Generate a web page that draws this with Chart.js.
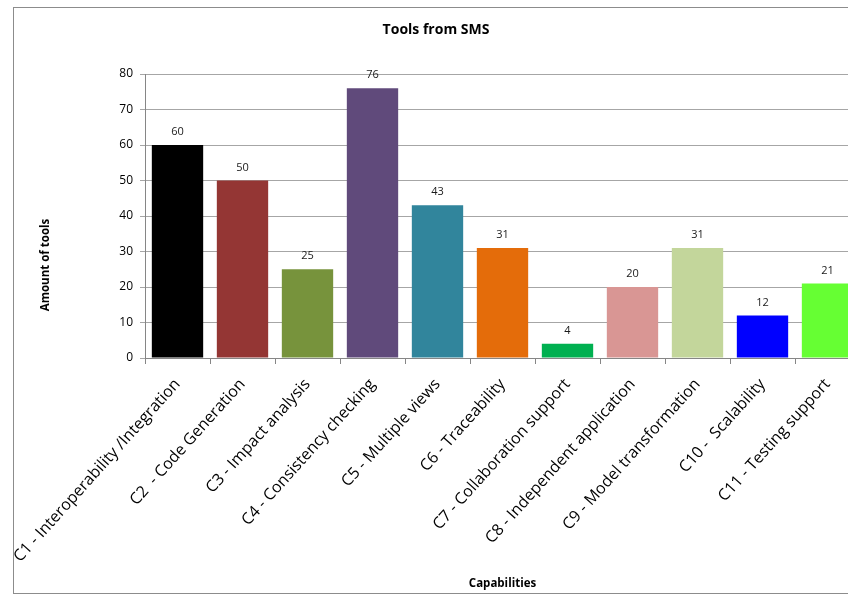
<!DOCTYPE html>
<html>
<head>
<meta charset="utf-8">
<script src="https://cdn.jsdelivr.net/npm/chart.js@4/dist/chart.umd.min.js"></script>
<style>
    html, body { margin: 0; padding: 0; background: #fff; overflow: hidden; }
    #frame {
        position: absolute;
        left: 13px;
        top: 7px;
        width: 900px;
        height: 585px;
        border: 1px solid #8c8c8c;
        overflow: hidden;
    }
    #chart { display: block; }
</style>
</head>
<body>
<div id="frame">
    <canvas id="chart" width="860" height="585"></canvas>
</div>
<script>
const capabilities = [
    'C1 - Interoperability /Integration',
    'C2  - Code Generation',
    'C3 - Impact analysis',
    'C4 - Consistency checking',
    'C5 - Multiple views',
    'C6 - Traceability',
    'C7 - Collaboration support',
    'C8 - Independent application',
    'C9 - Model transformation',
    'C10 -  Scalability',
    'C11 - Testing support'
];
const toolCounts = [60, 50, 25, 76, 43, 31, 4, 20, 31, 12, 21];
const barColors = [
    '#000000', '#943634', '#77933C', '#604A7B', '#31859C', '#E46C0A',
    '#00B050', '#D99694', '#C3D69B', '#0000FF', '#66FF33'
];
const yTicks = [0, 10, 20, 30, 40, 50, 60, 70, 80];

const FONT = '"Open Sans", Lato, "DejaVu Sans", sans-serif';

// numbers above the bars + chart title + y axis title
const textPlugin = {
    id: 'textPlugin',
    afterDatasetsDraw(chart) {
        const ctx = chart.ctx;
        ctx.save();
        ctx.fillStyle = '#1a1a1a';
        ctx.font = '11px ' + FONT;
        ctx.textAlign = 'center';
        ctx.textBaseline = 'middle';
        chart.getDatasetMeta(0).data.forEach((bar, i) => {
            ctx.fillText(toolCounts[i], bar.x, bar.y - 13);
        });

        ctx.font = 'bold 14px ' + FONT;
        ctx.fillStyle = '#000';
        ctx.fillText('Tools from SMS', 422, 22);

        ctx.translate(32, 257);
        ctx.rotate(-Math.PI / 2);
        ctx.font = 'bold 11.5px ' + FONT;
        ctx.fillText('Amount of tools', 0, 0);
        ctx.restore();
    }
};

new Chart(document.getElementById('chart').getContext('2d'), {
    type: 'bar',
    data: {
        labels: capabilities,
        datasets: [{
            data: toolCounts,
            backgroundColor: barColors,
            borderWidth: 0,
            barPercentage: 0.79,
            categoryPercentage: 1
        }]
    },
    options: {
        responsive: false,
        animation: false,
        devicePixelRatio: 1,
        layout: { padding: { top: 66, right: 14, left: 0, bottom: 0 } },
        plugins: {
            legend: { display: false },
            tooltip: { enabled: false },
            title: { display: false }
        },
        scales: {
            x: {
                grid: {
                    display: true,
                    drawOnChartArea: false,
                    offset: true,
                    tickLength: 6,
                    color: '#868686'
                },
                border: { color: '#868686' },
                ticks: {
                    color: '#000',
                    font: { family: FONT, size: 16 },
                    minRotation: 48,
                    maxRotation: 48,
                    padding: 11,
                    autoSkip: false
                },
                title: {
                    display: true,
                    text: 'Capabilities',
                    color: '#000',
                    font: { family: FONT, size: 11.5, weight: 'bold' },
                    padding: { top: 0, bottom: 2 }
                },
                afterFit(scale) {
                    scale.height = 235;
                    scale.paddingLeft = 0;
                    scale.paddingRight = 0;
                }
            },
            y: {
                min: 0,
                max: 80,
                afterBuildTicks(scale) {
                    scale.ticks = yTicks.map(v => ({ value: v }));
                },
                grid: {
                    color: '#a6a6a6',
                    tickLength: 5
                },
                border: { color: '#868686' },
                ticks: {
                    color: '#000',
                    font: { family: FONT, size: 12 },
                    padding: 7
                },
                afterFit(scale) {
                    scale.width = 131;
                }
            }
        }
    },
    plugins: [textPlugin]
});
</script>
</body>
</html>
